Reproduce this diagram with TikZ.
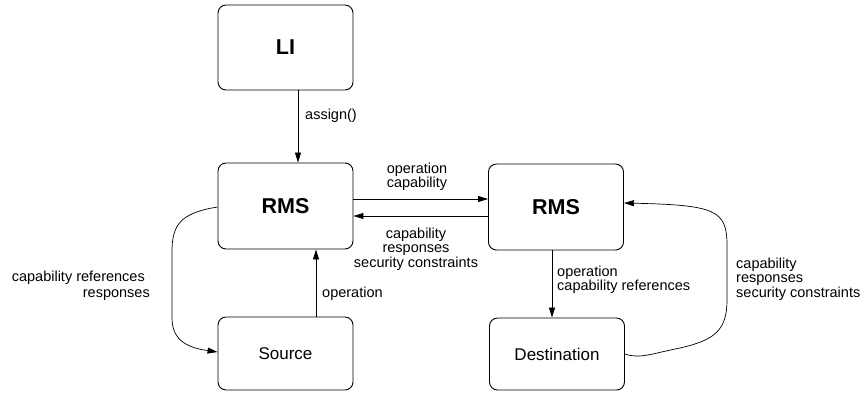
\documentclass[tikz,border=0pt]{standalone}
\usepackage{fontspec}
\setmainfont{Liberation Sans}
\usetikzlibrary{arrows.meta}
\begin{document}
\begin{tikzpicture}[x=1pt,y=-1pt,
  box/.style={draw,line width=0.9pt,rounded corners=8pt,minimum width=135pt,inner sep=0pt,font=\fontsize{17}{17}\selectfont},
  bigbox/.style={box,minimum height=86pt,font=\fontsize{21.5}{21.5}\selectfont\bfseries},
  smallbox/.style={box,minimum height=73pt},
  arr/.style={-{Triangle[length=10pt,width=6pt]},line width=0.7pt},
  lbl/.style={font=\fontsize{14.5}{14.5}\selectfont,inner sep=0pt}]
\useasboundingbox (0,0) rectangle (865,392);
\node[bigbox,minimum height=85pt] (LI) at (285.5,47.5) {LI};
\node[bigbox] (R1) at (285.5,206) {RMS};
\node[smallbox] (S) at (285.5,353.5) {Source};
\node[bigbox] (R2) at (556,207) {RMS};
\node[smallbox,minimum height=72pt] (D) at (557,354) {Destination};
\coordinate (xa) at (298,0);
\coordinate (xb) at (316,0);
\coordinate (xc) at (552,0);
\coordinate (ya) at (0,199);
\coordinate (yb) at (0,216);
\coordinate (yc) at (0,203);
\coordinate (yd) at (0,207);
\coordinate (ye) at (0,352);
\draw[arr] (LI.south -| xa) -- (R1.north -| xa);
\draw[arr] (S.north -| xb) -- (R1.south -| xb);
\draw[arr] (R1.east |- ya) -- (R2.west |- ya);
\draw[arr] (R2.west |- yb) -- (R1.east |- yb);
\draw[arr] (R2.south -| xc) -- (D.north -| xc);
\draw[arr] (D.east) .. controls (640,359) and (650,354) .. (680,348)
  .. controls (715,340) and (727,330) .. (727,300) -- (727,245)
  .. controls (727,210) and (715,205) .. (R2.east |- yc);
\draw[arr] (R1.west |- yd) .. controls (180,213) and (172,225) .. (172,252) -- (172,318)
  .. controls (172,342) and (190,348) .. (S.west |- ye);
\node[lbl,anchor=west] (l1) at (305,116) {assign()};
\node[lbl,anchor=west] (l2) at (322,294) {operation};
\node[lbl,align=center] (l3) at (417,176.5) {operation\\capability};
\node[lbl,align=center] (l4) at (416,249) {capability\\responses\\security constraints};
\node[lbl,align=left,anchor=west] (l5) at (557,279.5) {operation\\capability references};
\node[lbl,align=left,anchor=west] (l6) at (736,279) {capability\\responses\\security constraints};
\node[lbl,anchor=base east] (l7) at (145,281) {capability references};
\node[lbl,anchor=base east] (l8) at (150,297) {responses};
\end{tikzpicture}
\end{document}
